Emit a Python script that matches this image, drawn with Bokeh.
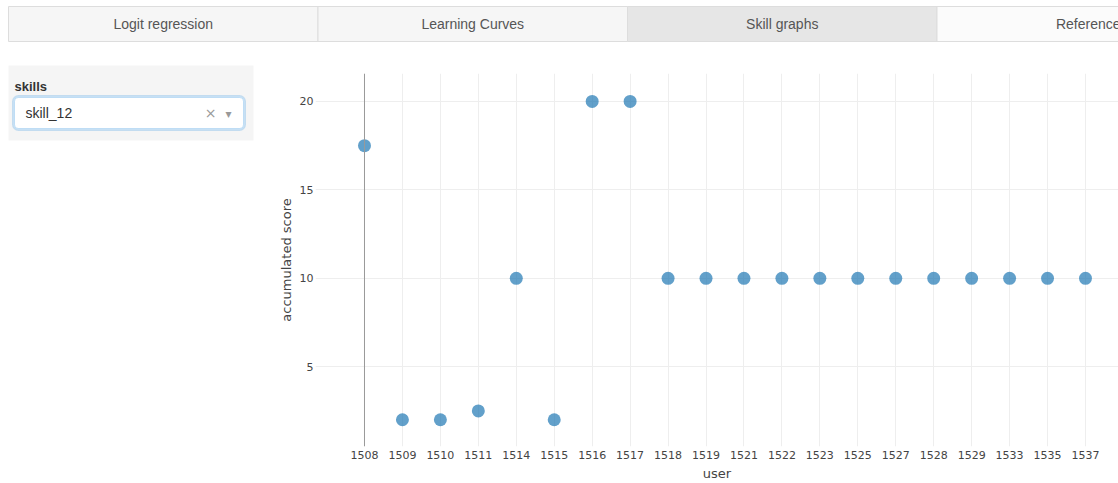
from bokeh.plotting import figure
from bokeh.layouts import column, row
from bokeh.models import Range1d, FixedTicker, Span, BoxAnnotation, ColumnDataSource
from bokeh.core.properties import value
from bokeh.embed import file_html
from bokeh.resources import INLINE

# ---- data ----
tabs = ["Logit regression", "Learning Curves", "Skill graphs", "References"]
active_tab = "Skill graphs"
filter_label = "skills"
selected_skill = "skill_12"
users = [1508, 1509, 1510, 1511, 1514, 1515, 1516, 1517, 1518, 1519,
         1521, 1522, 1523, 1525, 1527, 1528, 1529, 1533, 1535, 1537]
scores = [17.5, 2, 2, 2.5, 10, 2, 20, 20, 10, 10,
          10, 10, 10, 10, 10, 10, 10, 10, 10, 10]
y_ticks = [5, 10, 15, 20]
x_title = "user"
y_title = "accumulated score"

TXT = "#444444"

def bare(p):
    p.min_border = 0
    p.outline_line_color = None
    p.xgrid.visible = False
    p.ygrid.visible = False
    return p

# ---- tab bar ----
top = figure(width=1118, height=60, x_range=Range1d(0, 1118), y_range=Range1d(60, 0),
             x_axis_location=None, y_axis_location=None, toolbar_location=None,
             output_backend="svg", tools="")
bare(top)
tab_w = 309.5
lefts = [8 + i * tab_w for i in range(len(tabs))]
rights = [l + tab_w for l in lefts]
fills = ["#e6e6e6" if t == active_tab else ("#fbfbfb" if i == len(tabs) - 1 else "#f6f6f6")
         for i, t in enumerate(tabs)]
top.quad(left=lefts, right=rights, top=[6] * len(tabs), bottom=[41] * len(tabs),
         fill_color=fills, line_color="#dddddd", line_width=1)
top.text(x=[(l + r) / 2 for l, r in zip(lefts, rights)], y=[23.5] * len(tabs), text=tabs,
         text_font=value("Liberation Sans"), text_font_size="14px", text_color="#555555",
         text_align="center", text_baseline="middle")

# ---- left control panel ----
left = figure(width=265, height=423, x_range=Range1d(0, 265), y_range=Range1d(483, 60),
              x_axis_location=None, y_axis_location=None, toolbar_location=None,
              output_backend="svg", tools="")
bare(left)
left.add_layout(BoxAnnotation(left=8, right=253, top=65, bottom=140, fill_color="#f5f5f5",
                              fill_alpha=1, line_color=None))
left.add_layout(BoxAnnotation(left=13, right=244, top=96, bottom=129, fill_color="white",
                              fill_alpha=1, line_color="#66afe9", line_alpha=0.35,
                              line_width=3, border_radius=5))
left.add_layout(BoxAnnotation(left=14, right=243, top=97, bottom=128, fill_color="white",
                              fill_alpha=1, line_color="#66afe9", line_width=1, border_radius=4))
texts = [
    left.text(x=[14], y=[86], text=[filter_label], text_font=value("Liberation Sans"),
              text_font_size="13px", text_font_style="bold", text_color="#333333",
              text_baseline="middle"),
    left.text(x=[25], y=[112.5], text=[selected_skill], text_font=value("Liberation Sans"),
              text_font_size="14px", text_color="#333333", text_baseline="middle"),
    left.text(x=[210], y=[112.5], text=["\u00d7"], text_font=value("DejaVu Sans"),
              text_font_size="14px", text_color="#999999", text_baseline="middle",
              text_align="center"),
    left.text(x=[228], y=[113], text=["\u25be"], text_font=value("DejaVu Sans"),
              text_font_size="12px", text_color="#999999", text_baseline="middle",
              text_align="center"),
]
for r in texts:
    r.level = "overlay"

# ---- scatter ----
idx = list(range(len(users)))
src = ColumnDataSource(dict(x=idx, y=scores, user=[str(u) for u in users]))
p = figure(width=853, height=423, x_range=Range1d(-1.291, 19.87), y_range=Range1d(0.489, 21.579),
           toolbar_location=None, output_backend="svg", tools="",
           min_border_left=50, min_border_right=0, min_border_top=13, min_border_bottom=36)
p.outline_line_color = None
p.xaxis.ticker = FixedTicker(ticks=idx)
p.xaxis.major_label_overrides = {i: str(u) for i, u in zip(idx, users)}
p.yaxis.ticker = FixedTicker(ticks=y_ticks)
p.xgrid.ticker = FixedTicker(ticks=idx)
p.ygrid.ticker = FixedTicker(ticks=y_ticks)
for g in (p.xgrid, p.ygrid):
    g.grid_line_color = "#eeeeee"
    g.grid_line_width = 1
for ax in (p.xaxis, p.yaxis):
    ax.axis_line_color = None
    ax.major_tick_line_color = None
    ax.minor_tick_line_color = None
    ax.major_tick_out = 0
    ax.major_tick_in = 0
    ax.minor_tick_out = 0
    ax.minor_tick_in = 0
    ax.major_label_text_font = "DejaVu Sans"
    ax.major_label_text_font_size = "11px"
    ax.major_label_text_color = TXT
    ax.axis_label_text_font = "DejaVu Sans"
    ax.axis_label_text_font_size = "13px"
    ax.axis_label_text_font_style = "normal"
    ax.axis_label_text_color = TXT
p.xaxis.axis_label = x_title
p.yaxis.axis_label = y_title
p.xaxis.major_label_standoff = 4
p.xaxis.axis_label_standoff = 4
p.yaxis.major_label_standoff = 2
p.yaxis.axis_label_standoff = 3
p.add_layout(Span(location=idx[0], dimension="height", line_color="#999999", line_width=1))
p.scatter("x", "y", source=src, size=13, fill_color="#1f77b4", fill_alpha=0.7, line_color=None)

layout = column(top, row(column(left), column(p)))
open("out.html", "w").write(file_html(layout, INLINE))
